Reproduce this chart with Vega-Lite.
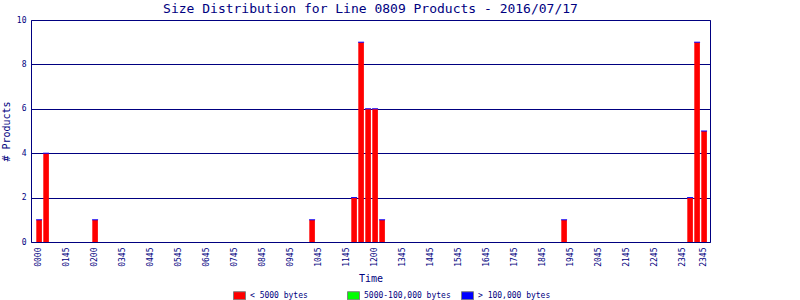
{
  "$schema": "https://vega.github.io/schema/vega-lite/v6.json",
  "width": 679,
  "height": 222,
  "autosize": {"type": "none"},
  "padding": {"left": 31, "top": 20, "right": 90, "bottom": 58},
  "background": "white",
  "title": {
    "text": "Size Distribution for Line 0809 Products - 2016/07/17",
    "font": "DejaVu Sans Mono",
    "fontSize": 13,
    "fontWeight": "normal",
    "color": "#000080",
    "anchor": "middle",
    "baseline": "top",
    "offset": 0
  },
  "config": {
    "view": {"stroke": "#000080", "strokeWidth": 1},
    "axis": {
      "labelFont": "DejaVu Sans Mono",
      "labelFontSize": 8,
      "labelColor": "#000080",
      "titleFont": "DejaVu Sans Mono",
      "titleFontSize": 10,
      "titleFontWeight": "normal",
      "titleColor": "#000080",
      "ticks": false,
      "domain": false
    }
  },
  "data": {
    "values": [
      {"slot": "0000", "size": "< 5000 bytes", "count": 1},
      {"slot": "0015", "size": "< 5000 bytes", "count": 4},
      {"slot": "0030", "size": "< 5000 bytes", "count": 0},
      {"slot": "0045", "size": "< 5000 bytes", "count": 0},
      {"slot": "0100", "size": "< 5000 bytes", "count": 0},
      {"slot": "0115", "size": "< 5000 bytes", "count": 0},
      {"slot": "0130", "size": "< 5000 bytes", "count": 0},
      {"slot": "0145", "size": "< 5000 bytes", "count": 0},
      {"slot": "0200", "size": "< 5000 bytes", "count": 1},
      {"slot": "0215", "size": "< 5000 bytes", "count": 0},
      {"slot": "0230", "size": "< 5000 bytes", "count": 0},
      {"slot": "0245", "size": "< 5000 bytes", "count": 0},
      {"slot": "0300", "size": "< 5000 bytes", "count": 0},
      {"slot": "0315", "size": "< 5000 bytes", "count": 0},
      {"slot": "0330", "size": "< 5000 bytes", "count": 0},
      {"slot": "0345", "size": "< 5000 bytes", "count": 0},
      {"slot": "0400", "size": "< 5000 bytes", "count": 0},
      {"slot": "0415", "size": "< 5000 bytes", "count": 0},
      {"slot": "0430", "size": "< 5000 bytes", "count": 0},
      {"slot": "0445", "size": "< 5000 bytes", "count": 0},
      {"slot": "0500", "size": "< 5000 bytes", "count": 0},
      {"slot": "0515", "size": "< 5000 bytes", "count": 0},
      {"slot": "0530", "size": "< 5000 bytes", "count": 0},
      {"slot": "0545", "size": "< 5000 bytes", "count": 0},
      {"slot": "0600", "size": "< 5000 bytes", "count": 0},
      {"slot": "0615", "size": "< 5000 bytes", "count": 0},
      {"slot": "0630", "size": "< 5000 bytes", "count": 0},
      {"slot": "0645", "size": "< 5000 bytes", "count": 0},
      {"slot": "0700", "size": "< 5000 bytes", "count": 0},
      {"slot": "0715", "size": "< 5000 bytes", "count": 0},
      {"slot": "0730", "size": "< 5000 bytes", "count": 0},
      {"slot": "0745", "size": "< 5000 bytes", "count": 0},
      {"slot": "0800", "size": "< 5000 bytes", "count": 0},
      {"slot": "0815", "size": "< 5000 bytes", "count": 0},
      {"slot": "0830", "size": "< 5000 bytes", "count": 0},
      {"slot": "0845", "size": "< 5000 bytes", "count": 0},
      {"slot": "0900", "size": "< 5000 bytes", "count": 0},
      {"slot": "0915", "size": "< 5000 bytes", "count": 0},
      {"slot": "0930", "size": "< 5000 bytes", "count": 0},
      {"slot": "0945", "size": "< 5000 bytes", "count": 1},
      {"slot": "1000", "size": "< 5000 bytes", "count": 0},
      {"slot": "1015", "size": "< 5000 bytes", "count": 0},
      {"slot": "1030", "size": "< 5000 bytes", "count": 0},
      {"slot": "1045", "size": "< 5000 bytes", "count": 0},
      {"slot": "1100", "size": "< 5000 bytes", "count": 0},
      {"slot": "1115", "size": "< 5000 bytes", "count": 2},
      {"slot": "1130", "size": "< 5000 bytes", "count": 9},
      {"slot": "1145", "size": "< 5000 bytes", "count": 6},
      {"slot": "1200", "size": "< 5000 bytes", "count": 6},
      {"slot": "1215", "size": "< 5000 bytes", "count": 1},
      {"slot": "1230", "size": "< 5000 bytes", "count": 0},
      {"slot": "1245", "size": "< 5000 bytes", "count": 0},
      {"slot": "1300", "size": "< 5000 bytes", "count": 0},
      {"slot": "1315", "size": "< 5000 bytes", "count": 0},
      {"slot": "1330", "size": "< 5000 bytes", "count": 0},
      {"slot": "1345", "size": "< 5000 bytes", "count": 0},
      {"slot": "1400", "size": "< 5000 bytes", "count": 0},
      {"slot": "1415", "size": "< 5000 bytes", "count": 0},
      {"slot": "1430", "size": "< 5000 bytes", "count": 0},
      {"slot": "1445", "size": "< 5000 bytes", "count": 0},
      {"slot": "1500", "size": "< 5000 bytes", "count": 0},
      {"slot": "1515", "size": "< 5000 bytes", "count": 0},
      {"slot": "1530", "size": "< 5000 bytes", "count": 0},
      {"slot": "1545", "size": "< 5000 bytes", "count": 0},
      {"slot": "1600", "size": "< 5000 bytes", "count": 0},
      {"slot": "1615", "size": "< 5000 bytes", "count": 0},
      {"slot": "1630", "size": "< 5000 bytes", "count": 0},
      {"slot": "1645", "size": "< 5000 bytes", "count": 0},
      {"slot": "1700", "size": "< 5000 bytes", "count": 0},
      {"slot": "1715", "size": "< 5000 bytes", "count": 0},
      {"slot": "1730", "size": "< 5000 bytes", "count": 0},
      {"slot": "1745", "size": "< 5000 bytes", "count": 0},
      {"slot": "1800", "size": "< 5000 bytes", "count": 0},
      {"slot": "1815", "size": "< 5000 bytes", "count": 0},
      {"slot": "1830", "size": "< 5000 bytes", "count": 0},
      {"slot": "1845", "size": "< 5000 bytes", "count": 1},
      {"slot": "1900", "size": "< 5000 bytes", "count": 0},
      {"slot": "1915", "size": "< 5000 bytes", "count": 0},
      {"slot": "1930", "size": "< 5000 bytes", "count": 0},
      {"slot": "1945", "size": "< 5000 bytes", "count": 0},
      {"slot": "2000", "size": "< 5000 bytes", "count": 0},
      {"slot": "2015", "size": "< 5000 bytes", "count": 0},
      {"slot": "2030", "size": "< 5000 bytes", "count": 0},
      {"slot": "2045", "size": "< 5000 bytes", "count": 0},
      {"slot": "2100", "size": "< 5000 bytes", "count": 0},
      {"slot": "2115", "size": "< 5000 bytes", "count": 0},
      {"slot": "2130", "size": "< 5000 bytes", "count": 0},
      {"slot": "2145", "size": "< 5000 bytes", "count": 0},
      {"slot": "2200", "size": "< 5000 bytes", "count": 0},
      {"slot": "2215", "size": "< 5000 bytes", "count": 0},
      {"slot": "2230", "size": "< 5000 bytes", "count": 0},
      {"slot": "2245", "size": "< 5000 bytes", "count": 0},
      {"slot": "2300", "size": "< 5000 bytes", "count": 0},
      {"slot": "2315", "size": "< 5000 bytes", "count": 2},
      {"slot": "2330", "size": "< 5000 bytes", "count": 9},
      {"slot": "2345", "size": "< 5000 bytes", "count": 5}
    ]
  },
  "layer": [
    {
      "mark": {"type": "bar"},
      "encoding": {
        "x": {
          "field": "slot",
          "type": "ordinal",
          "sort": null,
          "scale": {"paddingInner": 0.2, "paddingOuter": 0.6, "align": 0.63},
          "axis": {
            "title": "Time",
            "values": ["0000","0100","0200","0300","0400","0500","0600","0700","0800","0900","1000","1100","1200","1300","1400","1500","1600","1700","1800","1900","2000","2100","2200","2300","2345"],
            "labelExpr": "indexof(['0000','0200','1200','2345'], datum.value) >= 0 ? datum.value : slice(datum.value, 0, 2) + '45'",
            "labelAngle": -90,
            "labelPadding": 5,
            "titlePadding": 7,
            "grid": false
          }
        },
        "y": {
          "field": "count",
          "type": "quantitative",
          "scale": {"domain": [0, 10]},
          "axis": {
            "title": "# Products",
            "values": [0, 2, 4, 6, 8, 10],
            "grid": true,
            "gridColor": "#000080",
            "gridOpacity": 1,
            "gridWidth": 1,
            "labelPadding": 5,
            "titlePadding": 5
          }
        },
        "color": {
          "field": "size",
          "type": "nominal",
          "scale": {
            "domain": ["< 5000 bytes", "5000-100,000 bytes", "> 100,000 bytes"],
            "range": ["#ff0000", "#00ff00", "#0000ff"]
          },
          "legend": {
            "title": null,
            "orient": "none",
            "legendX": 202,
            "legendY": 269,
            "direction": "horizontal",
            "columns": 3,
            "gridAlign": "all",
            "columnPadding": 8,
            "padding": 0,
            "symbolType": "M-1,-0.67H1V0.67H-1Z",
            "symbolSize": 144,
            "symbolStrokeColor": "#808080",
            "symbolStrokeWidth": 1,
            "symbolOpacity": 1,
            "labelFont": "DejaVu Sans Mono",
            "labelFontSize": 8,
            "labelColor": "#000080",
            "labelOffset": 4
          }
        }
      }
    },
    {
      "transform": [{"filter": "datum.count > 0"}],
      "mark": {"type": "tick", "color": "#0000ff", "thickness": 1, "size": 6, "opacity": 1},
      "encoding": {
        "x": {"field": "slot", "type": "ordinal", "sort": null},
        "y": {"field": "count", "type": "quantitative"}
      }
    }
  ]
}
